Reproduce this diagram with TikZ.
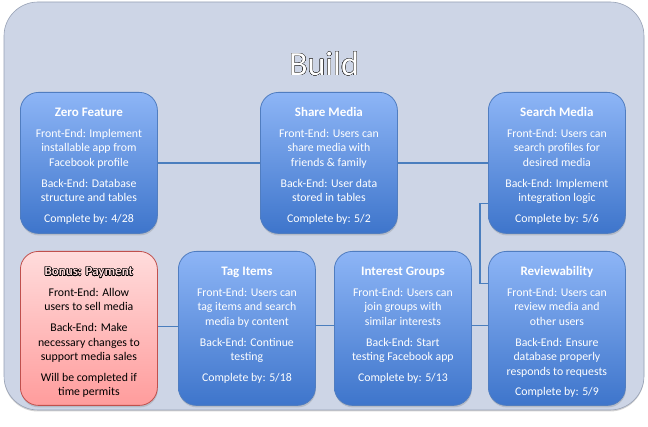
\documentclass[tikz,border=0pt]{standalone}
\usepackage{fontspec}
\setmainfont{Carlito}
\usepackage{contour}
\contourlength{0.5pt}
\usetikzlibrary{shadows,calc}
\definecolor{bgcol}{RGB}{205,213,230}
\definecolor{bgline}{RGB}{150,160,180}
\definecolor{boxtop}{RGB}{141,181,246}
\definecolor{boxbot}{RGB}{62,117,203}
\definecolor{boxline}{RGB}{80,125,192}
\definecolor{pinktop}{RGB}{255,220,220}
\definecolor{pinkbot}{RGB}{255,156,156}
\definecolor{pinkline}{RGB}{192,80,77}
\definecolor{connline}{RGB}{74,126,190}
\newcommand{\grp}{\\[6.2pt]}
\newcommand{\ttl}[1]{\rule{0pt}{10pt}{\fontsize{13}{14.5}\selectfont\bfseries #1}}
\tikzset{
  stage/.style={rectangle, rounded corners=18pt, draw=boxline, line width=0.8pt,
    top color=boxtop, bottom color=boxbot, minimum width=137pt, inner sep=0pt,
    anchor=north west, drop shadow={shadow xshift=0.5pt, shadow yshift=-2pt, opacity=0.3}},
  tallstage/.style={stage, minimum height=154pt},
  shortstage/.style={stage, minimum height=141pt},
  bonusstage/.style={tallstage, draw=pinkline, top color=pinktop, bottom color=pinkbot},
  stagetext/.style={anchor=north, align=center, inner sep=0pt, text=white,
    font=\fontsize{11.8}{14.5}\selectfont},
  bonustext/.style={stagetext, text=black},
  conn/.style={draw=connline, line width=1.6pt},
}
\begin{document}
\begin{tikzpicture}[x=1pt,y=-1pt]
\useasboundingbox (0,0) rectangle (648,427);
\path[rounded corners=34pt, fill=bgcol, draw=bgline, line width=0.6pt,
  drop shadow={shadow xshift=0pt, shadow yshift=-1.5pt, opacity=0.35}]
  (4,2) rectangle (644,410);
\node[font=\fontsize{34}{40}\selectfont, text=white] (title) at (324,64) {\contourlength{0.3pt}\contour{black!85}{Build}};

% top row
\node[shortstage] (zf) at (20,92) {};
\node[shortstage] (sm) at (260,92) {};
\node[shortstage] (se) at (488,92) {};
% bottom row
\node[bonusstage] (bp) at (20,251) {};
\node[tallstage] (ti) at (178,251) {};
\node[tallstage] (ig) at (334,251) {};
\node[tallstage] (rv) at (488,251) {};

% connectors
\draw[conn] (zf.east) -- (sm.west);
\draw[conn] (sm.east) -- (se.west);
\draw[conn] ([yshift=-40.5pt]se.west) -- ++(-8,0) |- ([yshift=45pt]rv.west);
\draw[conn] ([yshift=3pt]rv.west) -- ([yshift=3pt]ig.east);
\draw[conn] ([yshift=3pt]ig.west) -- ([yshift=3pt]ti.east);
\draw[conn] ([yshift=2pt]ti.west) -- ([yshift=2pt]bp.east);

% texts
\node[stagetext] (zft) at ([yshift=-14.5pt]zf.north) {\ttl{Zero Feature}\grp
  Front-End: Implement\\ installable app from\\ Facebook profile\grp
  Back-End: Database\\ structure and tables\grp
  Complete by: 4/28};
\node[stagetext] (smt) at ([yshift=-14.5pt]sm.north) {\ttl{Share Media}\grp
  Front-End: Users can\\ share media with\\ friends \& family\grp
  Back-End: User data\\ stored in tables\grp
  Complete by: 5/2};
\node[stagetext] (set) at ([yshift=-14.5pt]se.north) {\ttl{Search Media}\grp
  Front-End: Users can\\ search profiles for\\ desired media\grp
  Back-End: Implement\\ integration logic\grp
  Complete by: 5/6};
\node[bonustext] (bpt) at ([yshift=-14.5pt]bp.north) {\rule{0pt}{10pt}{\fontsize{13}{14.5}\selectfont\bfseries\color{pinktop}\contour{black}{Bonus: Payment}}\grp
  Front-End: Allow\\ users to sell media\grp
  Back-End: Make\\ necessary changes to\\ support media sales\grp
  Will be completed if\\ time permits};
\node[stagetext] (tit) at ([yshift=-14.5pt]ti.north) {\ttl{Tag Items}\grp
  Front-End: Users can\\ tag items and search\\ media by content\grp
  Back-End: Continue\\ testing\grp
  Complete by: 5/18};
\node[stagetext] (igt) at ([yshift=-14.5pt]ig.north) {\ttl{Interest Groups}\grp
  Front-End: Users can\\ join groups with\\ similar interests\grp
  Back-End: Start\\ testing Facebook app\grp
  Complete by: 5/13};
\node[stagetext] (rvt) at ([yshift=-14.5pt]rv.north) {\ttl{Reviewability}\grp
  Front-End: Users can\\ review media and\\ other users\grp
  Back-End: Ensure\\ database properly\\ responds to requests\grp
  Complete by: 5/9};
\end{tikzpicture}
\end{document}
